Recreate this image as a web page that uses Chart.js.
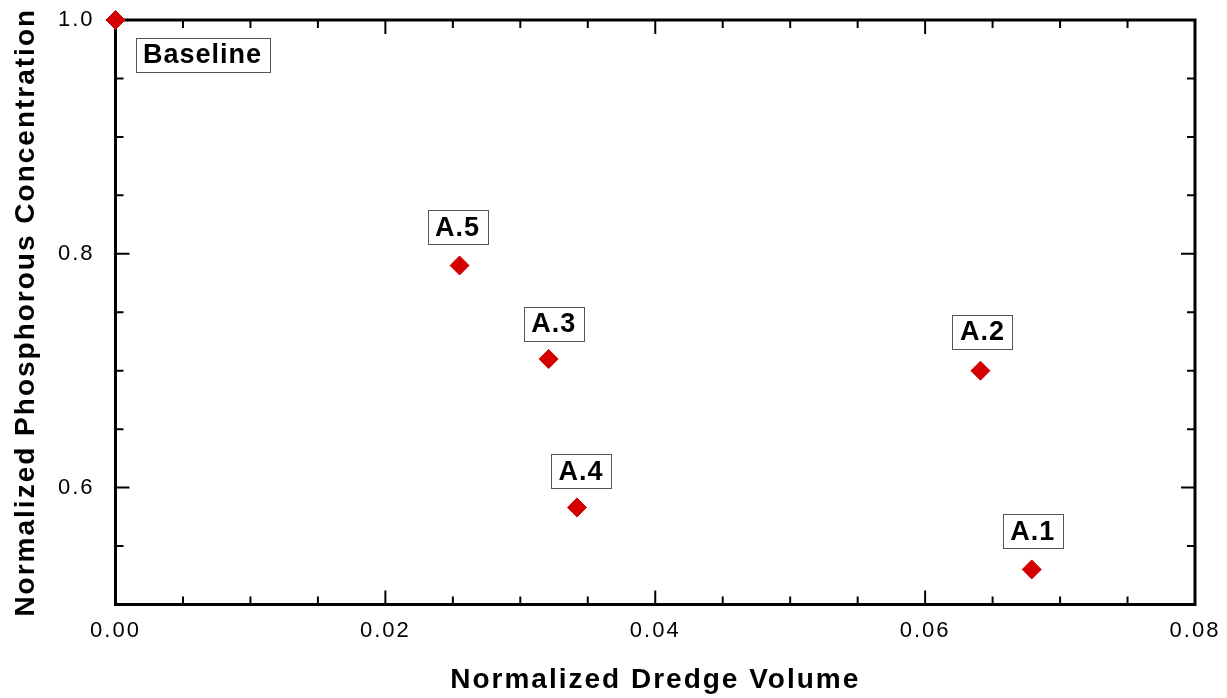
<!DOCTYPE html>
<html>
<head>
<meta charset="utf-8">
<script src="https://cdn.jsdelivr.net/npm/chart.js@4"></script>
<style>
  body { margin: 0; background: #fff; }
</style>
</head>
<body>
<canvas id="grafico" width="1227" height="698"></canvas>
<script>
// dados
var rotulos = ['Baseline', 'A.5', 'A.3', 'A.4', 'A.2', 'A.1'];
var volume = [0, 0.0255, 0.0321, 0.0342, 0.0641, 0.0679];
var fosforo = [1.0, 0.79, 0.71, 0.583, 0.70, 0.53];
var ticksX = [0, 0.02, 0.04, 0.06, 0.08];
var ticksY = [0.6, 0.8, 1.0];

// deslocamento (px) do centro de cada caixa de texto em relacao ao ponto
var deslocCaixa = [[87, 35], [-2, -38], [5, -35], [4, -36], [2, -39], [1, -38]];

var fonte = 'Liberation Sans, Arial, sans-serif';
Chart.defaults.font.family = fonte;
Chart.defaults.color = '#000';

// tira o espaco extra que o Chart.js reserva para os rotulos das pontas
function semPadding(s) {
    s.paddingLeft = 0;
    s.paddingRight = 0;
    s.paddingTop = 0;
    s.paddingBottom = 0;
}

// moldura grossa e ticks para dentro, nos 4 lados
var moldura = {
    id: 'moldura',
    beforeLayout: function (chart) { chart.ctx.letterSpacing = '2px'; },
    beforeDraw: function (chart) { chart.ctx.letterSpacing = '2px'; },
    beforeDatasetsDraw: function (chart) {
        var ctx = chart.ctx;
        var a = chart.chartArea;
        var sx = chart.scales.x;
        var sy = chart.scales.y;
        ctx.save();
        ctx.strokeStyle = '#000';
        ctx.lineWidth = 2;
        ctx.beginPath();
        for (var i = 0; i <= 16; i++) {
            var px = sx.getPixelForValue(i * 0.005);
            var t = (i % 4 == 0) ? 14 : 8;
            ctx.moveTo(px, a.bottom); ctx.lineTo(px, a.bottom - t);
            ctx.moveTo(px, a.top); ctx.lineTo(px, a.top + t);
        }
        for (var j = 0; j <= 10; j++) {
            var py = sy.getPixelForValue(0.5 + j * 0.05);
            var tt = (j % 4 == 2) ? 14 : 8;
            ctx.moveTo(a.left, py); ctx.lineTo(a.left + tt, py);
            ctx.moveTo(a.right, py); ctx.lineTo(a.right - tt, py);
        }
        ctx.stroke();
        ctx.lineWidth = 3;
        ctx.strokeRect(a.left, a.top, a.right - a.left, a.bottom - a.top);
        ctx.restore();
    },
    afterDatasetsDraw: function (chart) {
        // caixas com os nomes dos cenarios
        var ctx = chart.ctx;
        var meta = chart.getDatasetMeta(0);
        ctx.save();
        ctx.font = 'bold 27px ' + fonte;
        ctx.letterSpacing = '1px';
        ctx.textAlign = 'center';
        ctx.textBaseline = 'middle';
        for (var i = 0; i < meta.data.length; i++) {
            var pt = meta.data[i];
            var w = Math.round(ctx.measureText(rotulos[i]).width + 15);
            var h = 34;
            var cx = pt.x + deslocCaixa[i][0];
            var cy = pt.y + deslocCaixa[i][1];
            var x0 = Math.round(cx - w / 2) + 0.5;
            var y0 = Math.round(cy - h / 2) + 0.5;
            ctx.fillStyle = '#fff';
            ctx.fillRect(x0, y0, w, h);
            ctx.strokeStyle = '#555';
            ctx.lineWidth = 1;
            ctx.strokeRect(x0, y0, w, h);
            ctx.fillStyle = '#000';
            ctx.fillText(rotulos[i], cx, cy + 1);
        }
        ctx.restore();
    }
};

var pontos = [];
for (var k = 0; k < volume.length; k++) {
    pontos.push({ x: volume[k], y: fosforo[k] });
}

var grafico = new Chart(document.getElementById('grafico'), {
    type: 'scatter',
    data: {
        datasets: [{
            label: 'Fosforo',
            data: pontos,
            pointStyle: 'rectRot',
            pointRadius: 9.5,
            pointBackgroundColor: 'rgb(212, 0, 0)',
            pointBorderColor: 'rgb(212, 0, 0)',
            pointBorderWidth: 1,
            clip: false
        }]
    },
    options: {
        responsive: false,
        animation: false,
        layout: { padding: { top: 20, right: 32, left: 0, bottom: 0 } },
        plugins: {
            legend: { display: false },
            tooltip: { enabled: false }
        },
        scales: {
            x: {
                type: 'linear',
                min: 0,
                max: 0.08,
                afterBuildTicks: function (s) {
                    s.ticks = ticksX.map(function (v) { return { value: v }; });
                },
                afterFit: function (s) { s.height = 93.5; semPadding(s); },
                grid: { display: false },
                border: { display: false },
                ticks: {
                    autoSkip: false,
                    maxRotation: 0,
                    padding: 5,
                    font: { size: 22 },
                    callback: function (v) { return v.toFixed(2); }
                },
                title: {
                    display: true,
                    text: 'Normalized Dredge Volume',
                    font: { size: 28, weight: 'bold' },
                    padding: { top: 0, bottom: 1 }
                }
            },
            y: {
                type: 'linear',
                min: 0.5,
                max: 1.0,
                afterBuildTicks: function (s) {
                    s.ticks = ticksY.map(function (v) { return { value: v }; });
                },
                afterFit: function (s) { s.width = 115.5; semPadding(s); },
                grid: { display: false },
                border: { display: false },
                ticks: {
                    autoSkip: false,
                    padding: 13,
                    font: { size: 22 },
                    callback: function (v) { return v.toFixed(1); }
                },
                title: {
                    display: true,
                    text: 'Normalized Phosphorous Concentration',
                    font: { size: 28, weight: 'bold' },
                    padding: { top: 9, bottom: 0 }
                }
            }
        }
    },
    plugins: [moldura]
});
</script>
</body>
</html>
